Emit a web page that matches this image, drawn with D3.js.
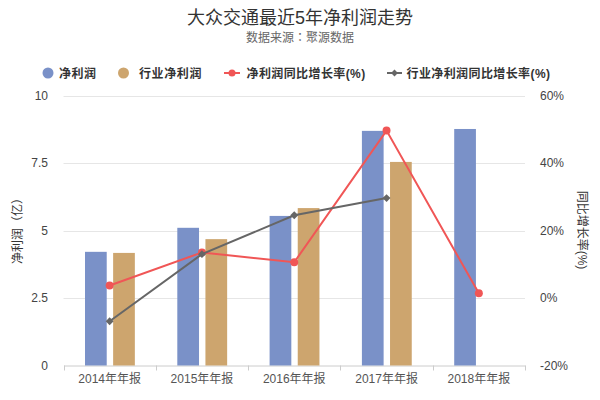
<!DOCTYPE html>
<html><head><meta charset="utf-8">
<script src="https://cdn.jsdelivr.net/npm/d3@7/dist/d3.min.js"></script>
<style>
html,body{margin:0;padding:0;background:#fff;}
svg{font-family:"Liberation Sans","Noto Sans CJK SC",sans-serif;}
</style></head>
<body><svg id="c" width="600" height="400"></svg>
<script>
const categories = ["2014年年报","2015年年报","2016年年报","2017年年报","2018年年报"];
const netProfit = [4.21, 5.10, 5.54, 8.69, 8.76];
const industryProfit = [4.17, 4.68, 5.83, 7.54, null];
const netGrowth = [3.7, 13.5, 10.6, 49.6, 1.4];
const industryGrowth = [-6.9, 13.0, 24.5, 29.6, null];
const leftTicks = [0, 2.5, 5, 7.5, 10];
const rightTicks = [-20, 0, 20, 40, 60];
const leftTickLabels = ["0","2.5","5","7.5","10"];
const rightTickLabels = ["-20%","0%","20%","40%","60%"];
const seriesNames = ["净利润","行业净利润","净利润同比增长率(%)","行业净利润同比增长率(%)"];
const colors = {blue:"#7a91c8", tan:"#cda56e", red:"#f05656", gray:"#666666"};

const svg = d3.select("#c");
const m = {l:63.5, r:525, t:95.5, b:365.5};

const x = d3.scaleBand().domain(categories).range([m.l, m.r]).paddingInner(0).paddingOuter(0);
const bw = x.bandwidth();
const x1 = d3.scaleBand().domain(["net","ind"]).range([bw*0.233, bw*0.773]).paddingInner(0.228).paddingOuter(0);
const yL = d3.scaleLinear().domain([0,10]).range([m.b, m.t]);
const yR = d3.scaleLinear().domain([-20,60]).range([m.b, m.t]);

// title
svg.append("text").attr("x",300).attr("y",24).attr("text-anchor","middle")
  .attr("font-size",18).attr("fill","#333").text("大众交通最近5年净利润走势");
svg.append("text").attr("x",300).attr("y",42).attr("text-anchor","middle")
  .attr("font-family","\"Noto Sans CJK TC\",\"Noto Sans CJK SC\",sans-serif")
  .attr("font-size",12).attr("fill","#666").text("数据来源：聚源数据");

// grid
svg.append("g").selectAll("line").data(leftTicks.slice(1)).join("line")
  .attr("x1",m.l).attr("x2",m.r).attr("y1",d=>Math.round(yL(d))+0.5).attr("y2",d=>Math.round(yL(d))+0.5)
  .attr("stroke","#e6e6e6").attr("stroke-width",1);

// left axis labels
svg.append("g").selectAll("text").data(leftTicks).join("text")
  .attr("x",48).attr("y",d=>yL(d)+4).attr("text-anchor","end").attr("font-size",12).attr("fill","#444")
  .text((d,i)=>leftTickLabels[i]);
// right axis labels
svg.append("g").selectAll("text").data(rightTicks).join("text")
  .attr("x",540).attr("y",d=>yR(d)+4).attr("text-anchor","start").attr("font-size",12).attr("fill","#444")
  .text((d,i)=>rightTickLabels[i]);

// axis titles
svg.append("text").attr("transform","translate(22,228) rotate(-90)").attr("text-anchor","middle")
  .attr("font-size",12).attr("fill","#333").text("净利润（亿）");
svg.append("text").attr("transform","translate(578,230) rotate(90)").attr("text-anchor","middle")
  .attr("font-size",12).attr("fill","#333").text("同比增长率(%)");

// x axis
const xAxis = d3.axisBottom(x).tickSize(0).tickPadding(9);
const gx = svg.append("g").attr("transform",`translate(0,${m.b})`).call(xAxis);
gx.select(".domain").attr("stroke","#ccc");
gx.selectAll("text").attr("font-size",12).attr("fill","#555").attr("font-family","\"Liberation Sans\",\"Noto Sans CJK SC\",sans-serif");
const bounds = categories.map(c=>x(c)).concat([m.r]);
svg.append("g").selectAll("line").data(bounds).join("line")
  .attr("x1",d=>Math.round(d)+0.5).attr("x2",d=>Math.round(d)+0.5).attr("y1",m.b).attr("y2",m.b+5)
  .attr("stroke","#ccc");

// bars
const g = svg.append("g");
categories.forEach((c,i)=>{
  [["net",netProfit[i],colors.blue],["ind",industryProfit[i],colors.tan]].forEach(([k,v,col])=>{
    if(v==null) return;
    g.append("rect").attr("x",x(c)+x1(k)).attr("width",x1.bandwidth())
      .attr("y",yL(v)).attr("height",yL(0)-yL(v)).attr("fill",col);
  });
});

// lines
const cx = c=>x(c)+bw/2;
function drawLine(vals,col,marker){
  const pts = categories.map((c,i)=>({c,v:vals[i]})).filter(d=>d.v!=null);
  svg.append("path").datum(pts)
    .attr("d",d3.line().x(d=>cx(d.c)).y(d=>yR(d.v)))
    .attr("fill","none").attr("stroke",col).attr("stroke-width",2);
  const sym = d3.symbol().type(marker==="circle"?d3.symbolCircle:d3.symbolDiamond2).size(marker==="circle"?50:40);
  svg.append("g").selectAll("path").data(pts).join("path")
    .attr("transform",d=>`translate(${cx(d.c)},${yR(d.v)})`).attr("d",sym).attr("fill",col);
}
drawLine(netGrowth,colors.red,"circle");
drawLine(industryGrowth,colors.gray,"diamond");

// legend
const lg = svg.append("g").attr("font-size",12).attr("font-weight","bold").attr("fill","#333");
const ly = 73;
lg.append("circle").attr("cx",48).attr("cy",ly).attr("r",5.5).attr("fill",colors.blue);
lg.append("text").attr("x",59).attr("y",ly+4.5).attr("letter-spacing",0.5).text(seriesNames[0]);
lg.append("circle").attr("cx",123.5).attr("cy",ly).attr("r",5.5).attr("fill",colors.tan);
lg.append("text").attr("x",139).attr("y",ly+4.5).attr("letter-spacing",0.6).text(seriesNames[1]);
lg.append("line").attr("x1",224).attr("x2",240).attr("y1",ly).attr("y2",ly).attr("stroke",colors.red).attr("stroke-width",2);
lg.append("circle").attr("cx",232).attr("cy",ly).attr("r",3.5).attr("fill",colors.red);
lg.append("text").attr("x",246.5).attr("y",ly+4.5).attr("letter-spacing",0.4).text(seriesNames[2]);
lg.append("line").attr("x1",387).attr("x2",402).attr("y1",ly).attr("y2",ly).attr("stroke",colors.gray).attr("stroke-width",2);
lg.append("path").attr("transform",`translate(394.5,${ly})`).attr("d",d3.symbol().type(d3.symbolDiamond2).size(30)).attr("fill",colors.gray);
lg.append("text").attr("x",406.5).attr("y",ly+4.5).attr("letter-spacing",0.4).text(seriesNames[3]);
</script></body></html>
